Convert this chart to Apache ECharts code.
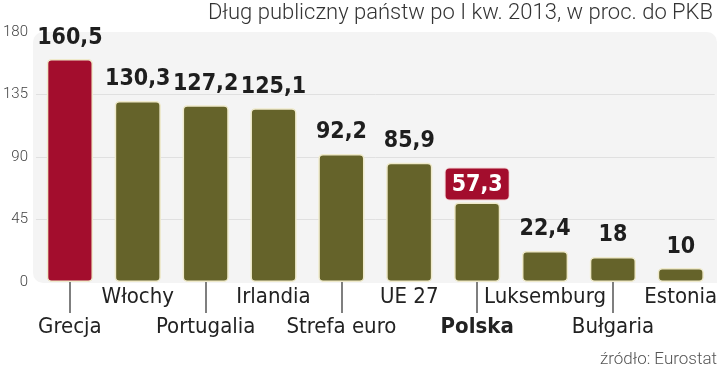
<!DOCTYPE html>
<html><head><meta charset="utf-8">
<script src="https://cdn.jsdelivr.net/npm/echarts@6/dist/echarts.min.js"></script>
<style>html,body{margin:0;padding:0;background:#fff}#c{width:720px;height:372px}</style>
</head><body><div id="c"></div>
<script>
const categories = ['Grecja','Włochy','Portugalia','Irlandia','Strefa euro','UE 27','Polska','Luksemburg','Bułgaria','Estonia'];
const values = [160.5,130.3,127.2,125.1,92.2,85.9,57.3,22.4,18,10];
const yTicks = [0,45,90,135,180];
const titleText = 'Dług publiczny państw po I kw. 2013, w proc. do PKB';
const sourceText = 'źródło: Eurostat';

const OLIVE = '#65632a', RED = '#a30d2d';
const fmt = v => String(v).replace('.', ',');

const data = values.map((v, i) => {
  const name = categories[i];
  const item = { value: v, itemStyle: { color: name === 'Grecja' ? RED : OLIVE } };
  if (name === 'Polska') {
    item.label = { color: '#fff', backgroundColor: RED, borderRadius: 4, borderColor: '#f3d6d6', borderWidth: 1,
      padding: [5, 6, 3, 6], distance: 3 };
  }
  return item;
});

const chart = echarts.init(document.getElementById('c'), null, { renderer: 'canvas' });
chart.setOption({
  animation: false,
  backgroundColor: '#fff',
  graphic: [
    { type: 'rect', left: 33, top: 32, shape: { width: 684, height: 251, r: [10, 10, 0, 10] }, style: { fill: '#f4f4f4' }, z: -10 },
    { type: 'text', right: 7, top: 2, style: { text: titleText, font: '300 22px Roboto', fill: '#333' } },
    { type: 'text', right: 3, top: 351, style: { text: sourceText, font: '300 17px Roboto', fill: '#555' } }
  ],
  grid: { left: 34, right: 3, top: 32, bottom: 90 },
  xAxis: {
    type: 'category', data: categories,
    axisLine: { show: false },
    axisTick: { show: true, alignWithLabel: true, length: 31, interval: (i) => i % 2 === 0, lineStyle: { color: '#555', width: 1.5 } },
    axisLabel: {
      interval: 0, margin: 2, verticalAlign: 'top',
      formatter: (v, i) => i % 2 === 0 ? ('{sp| }\n' + (v === 'Polska' ? '{db|' + v + '}' : '{d|' + v + '}')) : '{u|' + v + '}',
      rich: {
        sp: { fontSize: 2, lineHeight: 30 },
        u: { fontFamily: 'DejaVu Sans Condensed', fontSize: 22, color: '#222', lineHeight: 26 },
        d: { fontFamily: 'DejaVu Sans Condensed', fontSize: 22, color: '#222', lineHeight: 26 },
        db: { fontFamily: 'DejaVu Sans Condensed', fontWeight: 'bold', fontSize: 22, color: '#222', lineHeight: 26 }
      }
    }
  },
  yAxis: {
    type: 'value', min: yTicks[0], max: yTicks[yTicks.length - 1], interval: 45,
    axisLine: { show: false }, axisTick: { show: false },
    axisLabel: { margin: 8, fontFamily: 'Roboto', fontWeight: 300, fontSize: 15, color: '#444' },
    splitLine: { lineStyle: { color: '#e0e0e0', width: 1 }, showMinLine: false, showMaxLine: false }
  },
  series: [{
    type: 'bar', data: data, barWidth: '68%',
    itemStyle: { borderRadius: 4, borderColor: '#efeacb', borderWidth: 1.5 },
    label: { show: true, position: 'top', distance: 10, formatter: p => fmt(p.value),
      fontFamily: 'DejaVu Sans Condensed', fontWeight: 'bold', fontSize: 23, color: '#1e1e1e' }
  }]
});
</script></body></html>
